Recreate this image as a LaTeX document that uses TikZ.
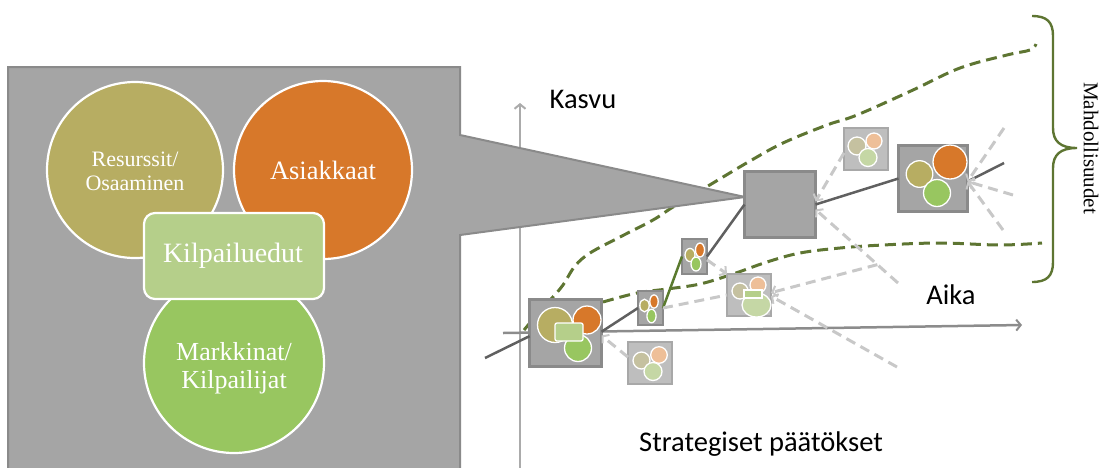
\documentclass[tikz,border=0pt]{standalone}
\usepackage{fontspec}
\setmainfont{Liberation Serif}
\newfontfamily\labelfont{Carlito}
\usetikzlibrary{arrows.meta,calc}

\definecolor{panelfill}{HTML}{A5A5A5}
\definecolor{panelline}{HTML}{8A8A8A}
\definecolor{fadefill}{HTML}{BEBEBE}
\definecolor{fadeline}{HTML}{A8A8A8}
\definecolor{olive}{HTML}{B7AD62}
\definecolor{orangec}{HTML}{D7782A}
\definecolor{greenc}{HTML}{98C660}
\definecolor{lightgreen}{HTML}{B5CF8A}
\definecolor{tanpale}{HTML}{C5C1A0}
\definecolor{peachpale}{HTML}{EEBF98}
\definecolor{greenpale}{HTML}{C5D7A5}
\definecolor{trailgray}{HTML}{606060}
\definecolor{trailgreen}{HTML}{5A7A2E}
\definecolor{envgreen}{HTML}{5E7532}
\definecolor{optgray}{HTML}{C8C8C8}
\definecolor{vaxiscol}{HTML}{ABABAB}
\definecolor{haxiscol}{HTML}{8C8C8C}

\begin{document}
\begin{tikzpicture}[x=1pt,y=-1pt,
  tip/.tip={Straight Barb[length=4.5pt,width=11pt,line width=2pt]},
  decbox/.style={draw=panelline,fill=panelfill,line width=3pt,inner sep=0pt,outer sep=0pt},
  smallbox/.style={draw=panelline,fill=panelfill,line width=2.2pt,inner sep=0pt,outer sep=0pt},
  fadebox/.style={draw=fadeline,fill=fadefill,line width=2.2pt,inner sep=0pt,outer sep=0pt,
    minimum width=44pt,minimum height=42pt},
  blob/.style={draw=white,line width=1.3pt},
  bigblob/.style={draw=white,line width=2.2pt},
  trail/.style={draw=trailgray,line width=2.5pt},
  trailg/.style={draw=trailgreen,line width=2.5pt},
  optline/.style={draw=optgray,line width=3pt,dash pattern=on 10pt off 6pt},
  envline/.style={draw=envgreen,line width=3pt,dash pattern=on 11pt off 6pt},
  axislabel/.style={font=\labelfont\fontsize{28.5}{32}\selectfont,text=black,inner sep=0pt},
  paneltext/.style={text=white,align=center,inner sep=0pt}
]
\useasboundingbox (0,0) rectangle (1100,467);

% axes
\coordinate (vy0) at (520,469);
\coordinate (vy1) at (520,103);
\coordinate (hx0) at (503,333);
\coordinate (hx1) at (1022,325);
\draw[draw=vaxiscol,line width=2.5pt,-tip] (vy0) -- (vy1);
\draw[draw=haxiscol,line width=2.5pt,-tip] (hx0) -- (hx1);

% envelope of possible paths
\draw[envline] plot[smooth,tension=0.6] coordinates {
  (524,330) (540,311) (552,298) (563,285) (575,266) (590,253) (620,237)
  (653,220) (673,207) (713,183) (750,161) (783,143) (827,125) (857,115)
  (913,90) (960,68) (1007,55) (1030,50) (1036,44)};
\draw[envline] plot[smooth,tension=0.6] coordinates {
  (603,302) (637,293) (667,289) (700,284) (733,274) (767,262) (800,253)
  (840,248) (883,245) (940,243) (1000,245) (1042,243)};

% zoomed panel with its callout wedge
\path[fill=panelfill,draw=panelline,line width=2pt]
  (8,469) -- (8,67) -- (460,67) -- (460,135) -- (745,197) -- (460,235) -- (460,469);

\node[circle,fill=olive,bigblob,minimum size=176pt,inner sep=0pt] (res) at (135,170) {};
\node[circle,fill=orangec,bigblob,minimum size=178pt,inner sep=0pt] (asi) at (323,170) {};
\node[circle,fill=greenc,bigblob,minimum size=180pt,inner sep=0pt] (mar) at (234,363) {};
\node[rectangle,rounded corners=11pt,fill=lightgreen,bigblob,minimum width=180pt,
  minimum height=86pt,inner sep=0pt] (kil) at (234,256) {};

\node[paneltext,font=\fontsize{22}{24}\selectfont] (resT) at (135,171) {Resurssit/\\Osaaminen};
\node[paneltext,font=\fontsize{26.5}{28}\selectfont] (asiT) at (323,170) {Asiakkaat};
\node[paneltext,font=\fontsize{28}{30}\selectfont] (kilT) at (233,256) {Kilpailuedut};
\node[paneltext,font=\fontsize{26}{28}\selectfont] (marT) at (234,368) {Markkinat/\\Kilpailijat};

% decision boxes
\node[decbox,minimum width=72pt,minimum height=67pt] (b1) at (565.5,333) {};
\node[smallbox,minimum width=25pt,minimum height=34pt] (bA) at (650.5,308) {};
\node[smallbox,minimum width=25pt,minimum height=35pt] (bB) at (694.5,256.5) {};
\node[decbox,minimum width=71pt,minimum height=66pt] (sq) at (780,204.5) {};
\node[decbox,minimum width=69pt,minimum height=66pt] (bC) at (933,178.5) {};

% alternatives not taken
\node[fadebox] (F1) at (866,149) {};
\node[fadebox] (F2) at (749,295) {};
\node[fadebox] (F3) at (650,363) {};

% chosen path
\coordinate (p0) at (485,358);
\coordinate (p9) at (1004,163);
\draw[trail] (p0) -- (b1.185);
\draw[trail] (b1.2) -- (bA.west);
\draw[trailg] (bA.east) -- (bB.west);
\draw[trail] (bB.east) -- (sq.west);
\draw[trail] (sq.east) -- (bC.west);
\draw[trail] (bC.-5) -- (p9);

% dashed alternatives
\coordinate (q1) at (898,283);
\coordinate (q2) at (897,367);
\coordinate (c1) at (1004,128);
\coordinate (c2) at (1013,195);
\coordinate (c3) at (1003,230);
\coordinate (q3) at ($(sq.-8)!0.75!(q1)$);
\draw[optline,-tip] (F3.165) -- (b1.-4);
\draw[optline] (bA.east) -- (F2.west);
\draw[optline,-tip] (bB.-15) -- (F2.north west);
\draw[optline,-tip] (q1) -- (sq.-8);
\draw[optline,-tip] (F1.190) -- (sq.5);
\draw[optline,-tip] (q3) -- (F2.6);
\draw[optline,-tip] (q2) -- (F2.-3);
\draw[optline,-tip] (c1) -- (bC.-5);
\draw[optline,-tip] (c2) -- (bC.-5);
\draw[optline,-tip] (c3) -- (bC.-5);

% contents of the decision boxes
\fill[olive,blob] (555,325) circle (17.5);
\fill[orangec,blob] (587,320) circle (14);
\fill[greenc,blob] (578,348) circle (13.5);
\fill[lightgreen,blob,rounded corners=2pt] (555,323) rectangle (583,341);

\fill[olive,blob] (644.5,305.5) ellipse (4.7 and 6.3);
\fill[orangec,blob] (654,301.5) ellipse (4.2 and 6.6);
\fill[greenc,blob] (651.5,316) ellipse (4.6 and 6.8);

\fill[olive,blob] (690,255) ellipse (5 and 6.6);
\fill[orangec,blob] (700,250) ellipse (4.5 and 7);
\fill[greenc,blob] (696,264) ellipse (5 and 7);

\fill[olive,blob] (919.5,174) circle (13.3);
\fill[orangec,blob] (950,162) circle (17);
\fill[greenc,blob] (937,193) circle (13.5);

\fill[tanpale,blob] (857,146) circle (9);
\fill[peachpale,blob] (874,141) circle (8);
\fill[greenpale,blob] (868,157.5) circle (9);

\fill[tanpale,blob] (740,291) circle (8);
\fill[peachpale,blob] (758,285) circle (8);
\fill[greenpale,blob] (756.5,305) ellipse (14.5 and 12);
\fill[lightgreen,blob] (744,290) rectangle (762,298);

\fill[tanpale,blob] (641.5,360.5) circle (8.5);
\fill[peachpale,blob] (659,355) circle (8.3);
\fill[greenpale,blob] (653,371.5) circle (9);

% labels
\node[axislabel] (kasvu) at (583,99) {Kasvu};
\node[axislabel] (aika) at (951,295) {Aika};
\node[axislabel] (strat) at (761,444) {Strategiset päätökset};

% brace of possibilities
\draw[draw=envgreen,line width=2.4pt]
  (1032,16) .. controls (1047,16) and (1053,22) .. (1053,36) -- (1053,128)
  .. controls (1053,141) and (1060,148) .. (1077,148)
  .. controls (1060,148) and (1053,155) .. (1053,168) -- (1053,262)
  .. controls (1053,276) and (1047,282) .. (1032,282);
\node[rotate=-90,inner sep=0pt,font=\fontsize{21}{24}\selectfont] (mahd) at (1091,148) {Mahdollisuudet};
\end{tikzpicture}
\end{document}
